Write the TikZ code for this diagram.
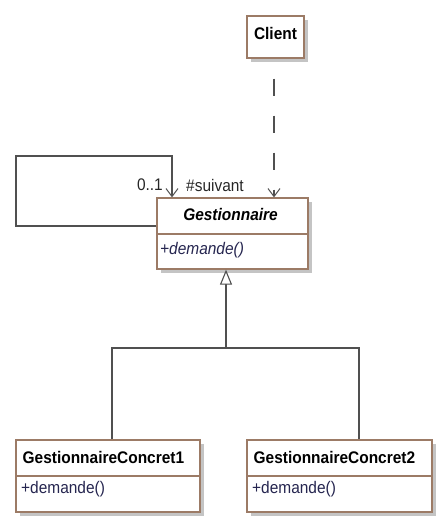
\documentclass[tikz,border=0pt]{standalone}
\usepackage{fontspec}
\setmainfont[FakeStretch=0.92]{Liberation Sans}
\usetikzlibrary{arrows.meta,shadows}
\definecolor{bordc}{HTML}{9C7B66}
\definecolor{linec}{HTML}{505050}
\definecolor{opc}{HTML}{262650}
\definecolor{shadc}{HTML}{C4C4C4}
\tikzset{
  cls/.style={draw=bordc, line width=1.3pt, fill=white, inner sep=0pt,
    drop shadow={shadow xshift=4pt, shadow yshift=-4pt, fill=shadc, opacity=1}},
  sep/.style={draw=bordc, line width=1.3pt},
  ttl/.style={inner sep=0pt, font=\fontsize{16.8}{19}\selectfont\bfseries, text=black},
  op/.style={inner sep=0pt, font=\fontsize{16.8}{19}\selectfont, text=opc},
  lbl/.style={inner sep=0pt, font=\fontsize{16.8}{19}\selectfont, text=black!85},
  conn/.style={draw=linec, line width=1.3pt},
  assoc/.style={conn, -{Straight Barb[length=8pt, width=12pt, line width=1pt]}},
  dep/.style={conn, line width=1.1pt, dash pattern=on 17pt off 20pt, dash phase=17pt,
    -{Straight Barb[length=8pt, width=12pt, line width=1pt]}},
  gen/.style={conn, -{Triangle[open, length=15pt, width=12pt, fill=white, line width=1.1pt]}}
}
\begin{document}
\begin{tikzpicture}[x=1pt, y=-1pt]
\useasboundingbox (0,0) rectangle (445,529);
% classes
\node[cls, minimum width=57, minimum height=42] (client) at (275.5,37) {};
\node[ttl] (clientT) at (275.5,33) {Client};
\node[cls, minimum width=151, minimum height=71] (gest) at (232.5,233.5) {};
\draw[sep] (gest.west |- 0,234) -- (gest.east |- 0,234);
\node[ttl] (gestT) at (230.5,214) {\textit{Gestionnaire}};
\node[op, anchor=west] (gestO) at (160,250) {\textit{+demande()}};
\node[cls, minimum width=184, minimum height=72] (gc1) at (108,476) {};
\draw[sep] (gc1.west |- 0,476) -- (gc1.east |- 0,476);
\node[ttl, anchor=west] (gc1T) at (22.5,457) {GestionnaireConcret1};
\node[op, anchor=west] (gc1O) at (21,489) {+demande()};
\node[cls, minimum width=185, minimum height=72] (gc2) at (339.5,476) {};
\draw[sep] (gc2.west |- 0,476) -- (gc2.east |- 0,476);
\node[ttl, anchor=west] (gc2T) at (253.5,457) {GestionnaireConcret2};
\node[op, anchor=west] (gc2O) at (252,489) {+demande()};
% dependency
\draw[dep] (client.south -| 274,0) -- (gest.north -| 274,0);
% self association
\draw[assoc] (gest.west |- 0,226) -- (16,226) -- (16,156) -- (172,156) -- (gest.north -| 172,0);
\node[lbl, anchor=east] (mult) at (163,185) {0..1};
\node[lbl, anchor=west] (role) at (186,185) {\#suivant};
% generalization
\coordinate (junc) at (226,348);
\draw[conn] (gc1.north -| 112,0) -- (112,348) -- (359,348) -- (gc2.north -| 359,0);
\draw[gen] (junc) -- (gest.south -| 226,0);
\end{tikzpicture}
\end{document}
